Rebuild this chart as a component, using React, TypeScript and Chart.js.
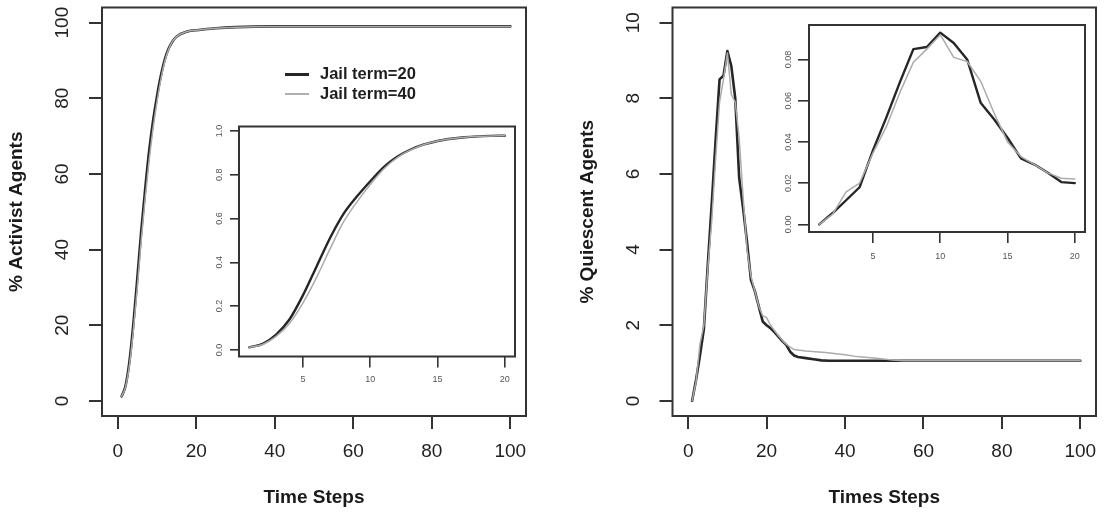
import React, { useEffect, useRef } from "react";
import { Chart, registerables } from "chart.js";

Chart.register(...registerables);

const W = 1104;
const H = 512;
const FONT = "'Liberation Sans', Arial, Helvetica, sans-serif";

// ---------------- data ----------------
const seriesNames = ["Jail term=20", "Jail term=40"];

// Left main panel: % Activist Agents
const leftMainSteps = [1, 2, 3, 4, 5, 6, 7, 8, 9, 10, 11, 12, 13, 14, 15, 16, 17, 18, 19, 20, 25, 30, 40, 50, 60, 70, 80, 90, 100];
const leftMainJail20 = [1.2, 4, 10.5, 20.5, 32.5, 45, 56, 66, 74, 80.5, 86, 90.3, 93.2, 95.1, 96.3, 97, 97.4, 97.7, 97.9, 98.0, 98.5, 98.8, 99, 99, 99, 99, 99, 99, 99];
const leftMainJail40 = [1.2, 3.7, 9.5, 18.8, 30, 42.5, 53.5, 63.5, 72, 79, 85, 89.8, 93, 95.1, 96.3, 97, 97.4, 97.7, 97.9, 98.0, 98.5, 98.8, 99, 99, 99, 99, 99, 99, 99];

// Right main panel: % Quiescent Agents
const rightMainSteps20 = [1, 2, 3, 4, 5, 6, 7, 8, 9, 10, 11, 12, 13, 14, 15, 16, 17, 18, 19, 20, 21, 22, 23, 24, 25, 26, 27, 28, 30, 32, 34, 36, 40, 50, 60, 70, 80, 90, 100];
const rightMainJail20 = [0, 0.55, 1.2, 1.9, 3.6, 5.2, 6.9, 8.5, 8.6, 9.25, 8.85, 8.0, 5.9, 5.1, 4.2, 3.2, 2.9, 2.5, 2.1, 2.0, 1.92, 1.82, 1.7, 1.58, 1.48, 1.3, 1.2, 1.16, 1.13, 1.1, 1.07, 1.06, 1.06, 1.06, 1.06, 1.06, 1.06, 1.06, 1.06];
const rightMainSteps40 = [1, 2, 3, 4, 5, 6, 7, 8, 9, 10, 11, 12, 13, 14, 15, 16, 17, 18, 19, 20, 21, 22, 23, 24, 25, 26, 27, 30, 35, 40, 43, 48, 52, 55, 60, 70, 80, 90, 100];
const rightMainJail40 = [0, 0.5, 1.5, 2.0, 3.5, 4.75, 6.4, 7.9, 8.5, 9.2, 8.1, 7.9, 6.95, 5.4, 4.0, 3.3, 2.9, 2.5, 2.25, 2.2, 2.0, 1.86, 1.72, 1.6, 1.5, 1.42, 1.36, 1.32, 1.28, 1.22, 1.17, 1.13, 1.08, 1.06, 1.06, 1.06, 1.06, 1.06, 1.06];

// Insets (fractions), steps 1..20
const insetSteps = [1, 2, 3, 4, 5, 6, 7, 8, 9, 10, 11, 12, 13, 14, 15, 16, 17, 18, 19, 20];
const insetLeftJail20 = [0.012, 0.028, 0.07, 0.14, 0.25, 0.38, 0.51, 0.62, 0.7, 0.77, 0.835, 0.882, 0.915, 0.938, 0.954, 0.964, 0.971, 0.975, 0.977, 0.978];
const insetLeftJail40 = [0.012, 0.025, 0.062, 0.122, 0.215, 0.33, 0.46, 0.583, 0.675, 0.755, 0.826, 0.878, 0.913, 0.938, 0.954, 0.964, 0.971, 0.975, 0.977, 0.978];
const insetRightJail20 = [0, 0.0055, 0.0117, 0.018, 0.036, 0.052, 0.069, 0.085, 0.086, 0.093, 0.088, 0.08, 0.059, 0.051, 0.042, 0.032, 0.029, 0.025, 0.0205, 0.02];
const insetRightJail40 = [0, 0.005, 0.0158, 0.02, 0.0347, 0.0475, 0.064, 0.0786, 0.085, 0.092, 0.081, 0.079, 0.0695, 0.054, 0.04, 0.0329, 0.029, 0.025, 0.0224, 0.022];

// ticks
const mainXTicks = [0, 20, 40, 60, 80, 100];
const mainXTickLabels = ["0", "20", "40", "60", "80", "100"];
const leftMainYTicks = [0, 20, 40, 60, 80, 100];
const leftMainYTickLabels = ["0", "20", "40", "60", "80", "100"];
const rightMainYTicks = [0, 2, 4, 6, 8, 10];
const rightMainYTickLabels = ["0", "2", "4", "6", "8", "10"];
const insetXTicks = [5, 10, 15, 20];
const insetXTickLabels = ["5", "10", "15", "20"];
const insetLeftYTicks = [0, 0.2, 0.4, 0.6, 0.8, 1.0];
const insetLeftYTickLabels = ["0.0", "0.2", "0.4", "0.6", "0.8", "1.0"];
const insetRightYTicks = [0, 0.02, 0.04, 0.06, 0.08];
const insetRightYTickLabels = ["0.00", "0.02", "0.04", "0.06", "0.08"];

// ---------------- styling ----------------
const DARK = "#262626";
const LIGHT = "#ababab";
const AXIS = "#333333";

type Series = { label: string; xs: number[]; ys: number[]; color: string; width: number; order: number };
type Spec = {
  area: { left: number; top: number; right: number; bottom: number };
  padLeft: number;
  xRange: [number, number];
  yRange: [number, number];
  xTicks: number[];
  xTickLabels: string[];
  yTicks: number[];
  yTickLabels: string[];
  tickSize: number;
  tickColor: string;
  xTickLen: number;
  yTickLen: number;
  xTickPad: number;
  yTickPad: number;
  xTitle?: string;
  yTitle?: string;
  xTitlePad?: number;
  yTitlePad?: number;
  smooth: boolean;
  series: Series[];
  fill?: boolean;
  legend?: { x: number; len: number; textX: number; y0: number; dy: number; size: number };
};

const rBoxPlugin = {
  id: "rBox",
  beforeDraw(chart: any, _a: any, opts: any) {
    if (!opts || !opts.fill) return;
    const { ctx, chartArea: c } = chart;
    ctx.save();
    ctx.fillStyle = "#ffffff";
    ctx.fillRect(c.left, c.top, c.right - c.left, c.bottom - c.top);
    ctx.restore();
  },
  afterDatasetsDraw(chart: any) {
    const { ctx, chartArea: c } = chart;
    ctx.save();
    ctx.strokeStyle = AXIS;
    ctx.lineWidth = 2;
    ctx.strokeRect(c.left, c.top, c.right - c.left, c.bottom - c.top);
    ctx.restore();
  },
};

const rLegendPlugin = {
  id: "rLegend",
  afterDraw(chart: any, _a: any, opts: any) {
    if (!opts || !opts.show) return;
    const { ctx } = chart;
    ctx.save();
    chart.data.datasets.forEach((ds: any, i: number) => {
      const y = opts.y0 + i * opts.dy;
      ctx.strokeStyle = ds.borderColor;
      ctx.lineWidth = ds.borderWidth + 0.4;
      ctx.beginPath();
      ctx.moveTo(opts.x, y);
      ctx.lineTo(opts.x + opts.len, y);
      ctx.stroke();
      ctx.fillStyle = "#1e1e1e";
      ctx.font = `bold ${opts.size}px ${FONT}`;
      ctx.textAlign = "left";
      ctx.textBaseline = "middle";
      ctx.fillText(ds.label, opts.textX, y);
    });
    ctx.restore();
  },
};

function buildConfig(p: Spec): any {
  const yAxisWidth = p.area.left - p.padLeft;
  const xAxisHeight = H - p.area.bottom;
  const zeroPad = (s: any) => {
    s.paddingLeft = 0;
    s.paddingRight = 0;
    s.paddingTop = 0;
    s.paddingBottom = 0;
  };
  return {
    type: "line",
    data: {
      datasets: p.series.map((s) => ({
        label: s.label,
        data: s.xs.map((x, i) => ({ x, y: s.ys[i] })),
        borderColor: s.color,
        backgroundColor: s.color,
        borderWidth: s.width,
        pointRadius: 0,
        fill: false,
        order: s.order,
        cubicInterpolationMode: p.smooth ? "monotone" : "default",
        tension: 0,
        borderJoinStyle: "round",
        borderCapStyle: "round",
      })),
    },
    options: {
      responsive: false,
      maintainAspectRatio: false,
      animation: false,
      events: [],
      layout: { padding: { left: p.padLeft, top: p.area.top, right: W - p.area.right, bottom: 0 } },
      plugins: {
        legend: { display: false },
        tooltip: { enabled: false },
        title: { display: false },
        rBox: { fill: !!p.fill },
        rLegend: p.legend ? { show: true, ...p.legend } : { show: false },
      },
      scales: {
        x: {
          type: "linear",
          position: "bottom",
          bounds: "data",
          min: p.xRange[0],
          max: p.xRange[1],
          afterBuildTicks: (a: any) => {
            a.ticks = p.xTicks.map((v) => ({ value: v }));
          },
          afterFit: (s: any) => {
            s.height = xAxisHeight;
            zeroPad(s);
          },
          ticks: {
            autoSkip: false,
            minRotation: 0,
            maxRotation: 0,
            padding: p.xTickPad,
            color: p.tickColor,
            font: { size: p.tickSize, family: FONT },
            callback: (_v: any, i: number) => p.xTickLabels[i],
          },
          grid: { display: true, drawOnChartArea: false, drawTicks: true, tickLength: p.xTickLen, color: AXIS, lineWidth: p.tickSize > 12 ? 2 : 1.6 },
          border: { display: false },
          title: p.xTitle
            ? { display: true, text: p.xTitle, color: "#1a1a1a", font: { size: 19, weight: "bold", family: FONT }, padding: { top: 0, bottom: p.xTitlePad || 0 } }
            : { display: false },
        },
        y: {
          type: "linear",
          position: "left",
          bounds: "data",
          min: p.yRange[0],
          max: p.yRange[1],
          afterBuildTicks: (a: any) => {
            a.ticks = p.yTicks.map((v) => ({ value: v }));
          },
          afterFit: (s: any) => {
            s.width = yAxisWidth;
            zeroPad(s);
          },
          ticks: {
            autoSkip: false,
            minRotation: 90,
            maxRotation: 90,
            crossAlign: "center",
            padding: p.yTickPad,
            color: p.tickColor,
            font: { size: p.tickSize, family: FONT },
            callback: (_v: any, i: number) => p.yTickLabels[i],
          },
          grid: { display: true, drawOnChartArea: false, drawTicks: true, tickLength: p.yTickLen, color: AXIS, lineWidth: p.tickSize > 12 ? 2 : 1.6 },
          border: { display: false },
          title: p.yTitle
            ? { display: true, text: p.yTitle, color: "#1a1a1a", font: { size: 19, weight: "bold", family: FONT }, padding: { top: p.yTitlePad || 0, bottom: 0 } }
            : { display: false },
        },
      },
    },
    plugins: [rBoxPlugin, rLegendPlugin],
  };
}

const leftMainSpec: Spec = {
  area: { left: 102, top: 7.5, right: 526, bottom: 416 },
  padLeft: 0,
  xRange: [-4, 104],
  yRange: [-4, 104],
  xTicks: mainXTicks,
  xTickLabels: mainXTickLabels,
  yTicks: leftMainYTicks,
  yTickLabels: leftMainYTickLabels,
  tickSize: 19,
  tickColor: "#222222",
  xTickLen: 13,
  yTickLen: 13,
  xTickPad: 11.6,
  yTickPad: 10.2,
  xTitle: "Time Steps",
  yTitle: "% Activist Agents",
  xTitlePad: 2.6,
  yTitlePad: 5.6,
  smooth: true,
  series: [
    { label: seriesNames[0], xs: leftMainSteps, ys: leftMainJail20, color: DARK, width: 2.6, order: 2 },
    { label: seriesNames[1], xs: leftMainSteps, ys: leftMainJail40, color: LIGHT, width: 1.5, order: 1 },
  ],
  legend: { x: 285, len: 24, textX: 320, y0: 74.5, dy: 19.5, size: 16.5 },
};

const rightMainSpec: Spec = {
  area: { left: 672.5, top: 7.5, right: 1096, bottom: 416 },
  padLeft: 552,
  xRange: [-4, 104],
  yRange: [-0.4, 10.4],
  xTicks: mainXTicks,
  xTickLabels: mainXTickLabels,
  yTicks: rightMainYTicks,
  yTickLabels: rightMainYTickLabels,
  tickSize: 19,
  tickColor: "#222222",
  xTickLen: 13,
  yTickLen: 13,
  xTickPad: 11.6,
  yTickPad: 15.4,
  xTitle: "Times Steps",
  yTitle: "% Quiescent Agents",
  xTitlePad: 2.6,
  yTitlePad: 24,
  smooth: false,
  series: [
    { label: seriesNames[0], xs: rightMainSteps20, ys: rightMainJail20, color: DARK, width: 2.6, order: 2 },
    { label: seriesNames[1], xs: rightMainSteps40, ys: rightMainJail40, color: LIGHT, width: 1.5, order: 1 },
  ],
};

const leftInsetSpec: Spec = {
  area: { left: 239, top: 126.5, right: 515, bottom: 356.5 },
  padLeft: 0,
  xRange: [0.24, 20.76],
  yRange: [-0.03, 1.02],
  xTicks: insetXTicks,
  xTickLabels: insetXTickLabels,
  yTicks: insetLeftYTicks,
  yTickLabels: insetLeftYTickLabels,
  tickSize: 9,
  tickColor: "#555555",
  xTickLen: 11,
  yTickLen: 9,
  xTickPad: 7.1,
  yTickPad: 3.75,
  smooth: true,
  fill: true,
  series: [
    { label: seriesNames[0], xs: insetSteps, ys: insetLeftJail20, color: DARK, width: 2.4, order: 2 },
    { label: seriesNames[1], xs: insetSteps, ys: insetLeftJail40, color: LIGHT, width: 1.5, order: 1 },
  ],
};

const rightInsetSpec: Spec = {
  area: { left: 809, top: 25, right: 1085, bottom: 232 },
  padLeft: 0,
  xRange: [0.24, 20.76],
  yRange: [-0.0037, 0.0967],
  xTicks: insetXTicks,
  xTickLabels: insetXTickLabels,
  yTicks: insetRightYTicks,
  yTickLabels: insetRightYTickLabels,
  tickSize: 9,
  tickColor: "#555555",
  xTickLen: 11,
  yTickLen: 11,
  xTickPad: 8.6,
  yTickPad: 0.3,
  smooth: false,
  fill: true,
  series: [
    { label: seriesNames[0], xs: insetSteps, ys: insetRightJail20, color: DARK, width: 2.4, order: 2 },
    { label: seriesNames[1], xs: insetSteps, ys: insetRightJail40, color: LIGHT, width: 1.5, order: 1 },
  ],
};

function Panel({ spec }: { spec: Spec }) {
  const ref = useRef<HTMLCanvasElement | null>(null);
  useEffect(() => {
    if (!ref.current) return;
    const chart = new Chart(ref.current, buildConfig(spec));
    return () => chart.destroy();
  }, [spec]);
  return (
    <canvas
      ref={ref}
      width={W}
      height={H}
      style={{ position: "absolute", left: 0, top: 0, width: W, height: H, pointerEvents: "none" }}
    />
  );
}

export default function App() {
  return (
    <div style={{ position: "absolute", left: 0, top: 0, width: W, height: H, background: "#ffffff", overflow: "hidden" }}>
      <Panel spec={leftMainSpec} />
      <Panel spec={rightMainSpec} />
      <Panel spec={leftInsetSpec} />
      <Panel spec={rightInsetSpec} />
    </div>
  );
}
